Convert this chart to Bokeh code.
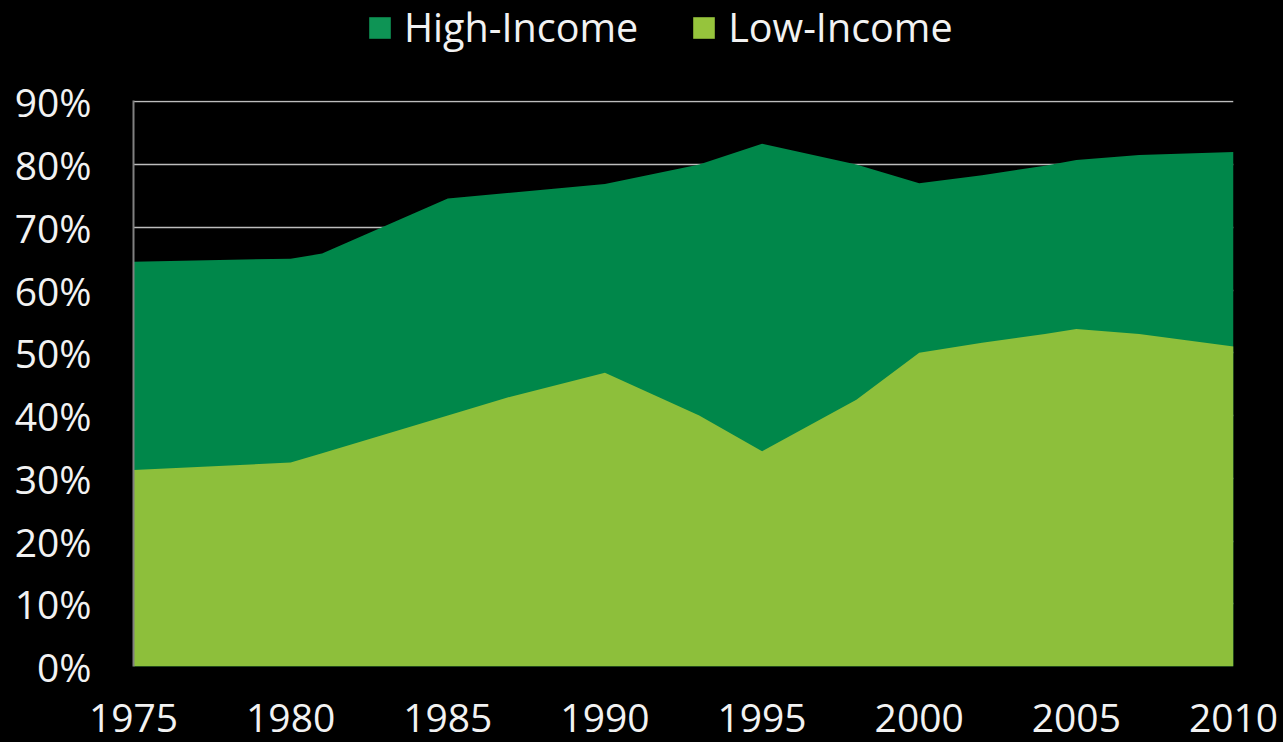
from bokeh.plotting import figure
from bokeh.layouts import column
from bokeh.models import ColumnDataSource, FixedTicker, PrintfTickFormatter, Legend, LegendItem, Range1d
from bokeh.embed import file_html
from bokeh.resources import INLINE

years = [1975, 1980, 1981, 1985, 1987, 1990, 1993, 1995, 1998, 2000, 2002, 2004, 2005, 2007, 2010]
high_income = [64.5, 65.0, 65.8, 74.6, 75.5, 76.9, 80.0, 83.3, 80.0, 77.0, 78.3, 79.8, 80.7, 81.5, 82.0]
low_income = [31.3, 32.5, 34.0, 40.0, 43.0, 46.8, 40.0, 34.3, 42.5, 50.0, 51.6, 53.0, 53.8, 53.0, 51.0]
series_names = ["High-Income", "Low-Income"]
y_ticks = [0, 10, 20, 30, 40, 50, 60, 70, 80, 90]
x_ticks = [1975, 1980, 1985, 1990, 1995, 2000, 2005, 2010]

src = ColumnDataSource(dict(year=years, high=high_income, low=low_income))

FONT = "Open Sans"
TXT = "#f2f2f2"
HIGH_C = "#00874a"
LOW_C = "#8dbf3b"

# ---- legend strip on top (series drawn off-view, only their legend shows) ----
leg = figure(width=1283, height=70, output_backend="svg", toolbar_location=None,
             x_range=Range1d(0, 1), y_range=Range1d(0, 1),
             x_axis_location=None, y_axis_location=None,
             background_fill_color="black", border_fill_color="black",
             outline_line_color=None,
             min_border_left=0, min_border_right=0, min_border_top=0, min_border_bottom=0)
leg.xgrid.grid_line_color = None
leg.ygrid.grid_line_color = None
lh = leg.varea(x="year", y1=0, y2="high", source=src, fill_color="#0e9455")
ll = leg.varea(x="year", y1=0, y2="low", source=src, fill_color="#96c43c")
legend = Legend(items=[LegendItem(label=series_names[0], renderers=[lh]),
                       LegendItem(label=series_names[1], renderers=[ll])],
                orientation="horizontal", location=(233, 16),
                background_fill_alpha=0, border_line_color=None,
                label_text_font=FONT, label_text_font_size="39.5px", label_text_color=TXT,
                glyph_width=27, glyph_height=27, label_standoff=11, spacing=52,
                padding=0, margin=0)
leg.add_layout(legend, "center")

# ---- main chart ----
p = figure(width=1283, height=672, output_backend="svg", toolbar_location=None,
           x_range=Range1d(1975, 2010), y_range=Range1d(0, 90.2),
           background_fill_color="black", border_fill_color="black",
           outline_line_color=None,
           min_border_left=133, min_border_right=50, min_border_top=30, min_border_bottom=76)

p.varea(x="year", y1=0, y2="high", source=src, fill_color=HIGH_C)
p.varea(x="year", y1=0, y2="low", source=src, fill_color=LOW_C)

p.xgrid.grid_line_color = None
p.ygrid.grid_line_color = "#bdbdbd"
p.ygrid.grid_line_width = 1.5
p.ygrid.ticker = FixedTicker(ticks=y_ticks)

p.yaxis.ticker = FixedTicker(ticks=y_ticks)
p.yaxis.formatter = PrintfTickFormatter(format="%d%%")
p.xaxis.ticker = FixedTicker(ticks=x_ticks)

for ax in (p.xaxis[0], p.yaxis[0]):
    ax.major_label_text_font = FONT
    ax.major_label_text_font_size = "39px"
    ax.major_label_text_color = TXT
    ax.major_tick_line_color = None
    ax.minor_tick_line_color = None
    ax.major_tick_out = 0
    ax.major_tick_in = 0

p.yaxis.axis_line_color = "#808080"
p.yaxis.axis_line_width = 2
p.yaxis.major_label_standoff = 42
p.xaxis.axis_line_color = None
p.xaxis.major_label_standoff = 37

layout = column(leg, p, spacing=0)

html = file_html(layout, INLINE).replace("<body>", '<body style="background:#000;">')
open("out.html", "w").write(html)
